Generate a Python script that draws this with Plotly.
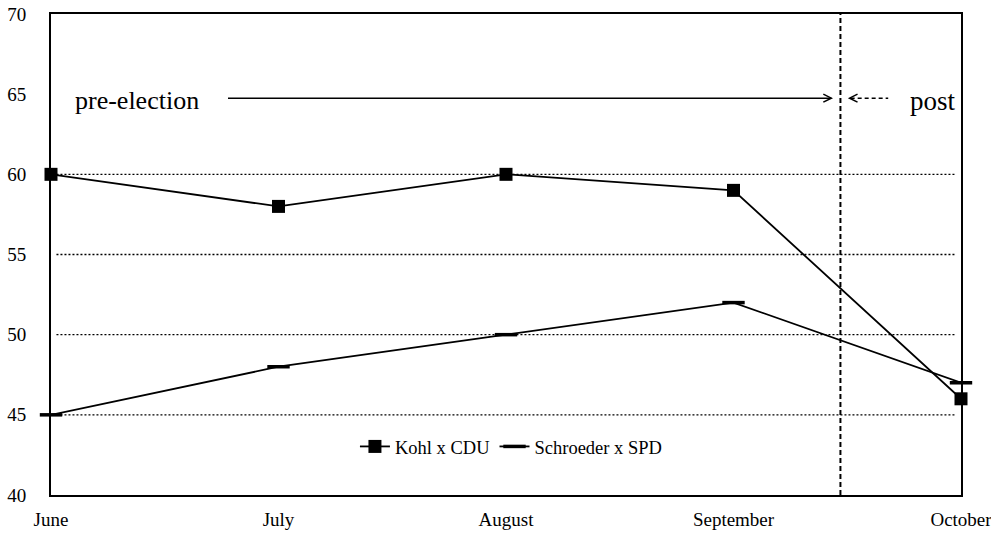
import plotly.graph_objects as go

# Monthly approval figures
months = ["June", "July", "August", "September", "October"]
kohl_cdu = [60, 58, 60, 59, 46]
schroeder_spd = [45, 48, 50, 52, 47]

y_ticks = [40, 45, 50, 55, 60, 65, 70]
grid_levels = [45, 50, 55, 60]
election_pos = 3.47  # between September and October polls

SERIF = "'Liberation Serif', 'Times New Roman', Times, serif"
x_idx = list(range(len(months)))

fig = go.Figure()

fig.add_trace(go.Scatter(
    x=x_idx, y=kohl_cdu, name="Kohl x CDU", mode="lines+markers",
    line=dict(color="black", width=1.8),
    marker=dict(symbol="square", size=13, color="black"),
    cliponaxis=False,
))
fig.add_trace(go.Scatter(
    x=x_idx, y=schroeder_spd, name="Schroeder x SPD", mode="lines+markers",
    line=dict(color="black", width=1.8),
    marker=dict(symbol="line-ew", size=16, color="black",
                line=dict(color="black", width=3.5)),
    cliponaxis=False,
))

shapes = []
# dotted horizontal gridlines
for g in grid_levels:
    shapes.append(dict(type="line", xref="paper", yref="y", x0=0.006, x1=0.994,
                       y0=g, y1=g, layer="below",
                       line=dict(color="black", width=1.3, dash="2px,2px")))
# election day divider
shapes.append(dict(type="line", xref="x", yref="paper", x0=election_pos, x1=election_pos,
                   y0=0, y1=1, line=dict(color="black", width=2, dash="5px,3px")))
# pre-election arrow
shapes.append(dict(type="line", xref="x", yref="y", x0=0.778, x1=3.43, y0=64.75, y1=64.75,
                   line=dict(color="black", width=1.5)))
shapes.append(dict(type="path", xref="x", yref="y", xsizemode="pixel", ysizemode="pixel",
                   xanchor=3.43, yanchor=64.75, path="M -8 4 L 0 0 L -8 -4",
                   line=dict(color="black", width=1.5)))
# post-election arrow (dashed)
shapes.append(dict(type="line", xref="x", yref="y", x0=3.515, x1=3.68, y0=64.75, y1=64.75,
                   line=dict(color="black", width=1.5, dash="4px,3px")))
shapes.append(dict(type="path", xref="x", yref="y", xsizemode="pixel", ysizemode="pixel",
                   xanchor=3.51, yanchor=64.75, path="M 8 4 L 0 0 L 8 -4",
                   line=dict(color="black", width=1.5)))

annotations = [
    dict(text="pre-election", x=0.097, y=64.6, xref="x", yref="y", xanchor="left",
         yanchor="middle", showarrow=False, font=dict(family=SERIF, size=26, color="black")),
    dict(text="post", x=3.765, y=64.6, xref="x", yref="y", xanchor="left",
         yanchor="middle", showarrow=False, font=dict(family=SERIF, size=27, color="black")),
]

fig.update_layout(
    width=991, height=533,
    margin=dict(l=51, r=30, t=14, b=38, autoexpand=False),
    paper_bgcolor="white", plot_bgcolor="white",
    font=dict(family=SERIF, size=19, color="black"),
    showlegend=True,
    legend=dict(orientation="h", x=0.334, y=0.1, xanchor="left", yanchor="middle",
                font=dict(family=SERIF, size=18.5, color="black"),
                bgcolor="rgba(0,0,0,0)", itemwidth=30, tracegroupgap=0),
    shapes=shapes,
    annotations=annotations,
)
fig.update_xaxes(range=[0, 4], tickvals=x_idx, ticktext=months, showgrid=False,
                 zeroline=False, showline=True, mirror=True, linecolor="black",
                 linewidth=2, ticks="", ticklabelstandoff=6, automargin=False,
                 ticklabeloverflow="allow")
fig.update_yaxes(range=[40, 70], tickvals=y_ticks, showgrid=False, zeroline=False,
                 showline=True, mirror=True, linecolor="black", linewidth=2,
                 ticks="", ticklabelstandoff=19, automargin=False,
                 ticklabeloverflow="allow")

fig.write_html("out.html")
